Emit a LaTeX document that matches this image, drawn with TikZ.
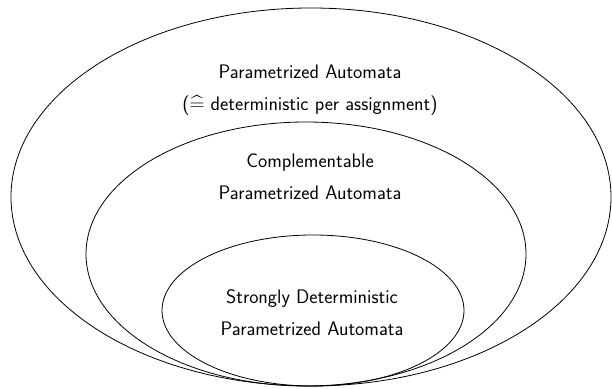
\documentclass[tikz,border=0pt]{standalone}
\usepackage{amsmath}
\begin{document}
\begin{tikzpicture}[x=1pt, y=1pt, line width=0.8pt, every node/.style={font=\sffamily\fontsize{19.6}{32}\selectfont, align=center}]
    \useasboundingbox (0,0) rectangle (612,388);

    % Draw nested classes
    \draw (311,191) ellipse [x radius=300, y radius=189];
    \draw (306,134) ellipse [x radius=220, y radius=132];
    \draw (313,77.5) ellipse [x radius=151, y radius=75.5];

    % Class labels
    \node (PA) at (310,298) {Parametrized Automata\\($\widehat{=}$ deterministic per assignment)};
    \node (CPA) at (310,211) {Complementable\\Parametrized Automata};
    \node (SDPA) at (312,75) {Strongly Deterministic\\Parametrized Automata};

\end{tikzpicture}
\end{document}
